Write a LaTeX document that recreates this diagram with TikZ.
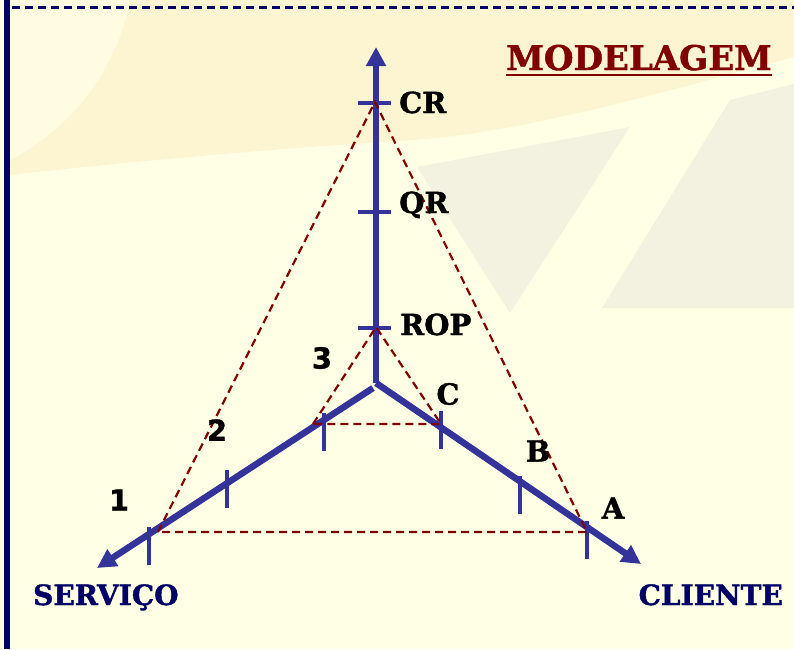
\documentclass[tikz,border=0pt]{standalone}
\usepackage{fontspec}
\setmainfont{DejaVu Serif}
\newfontfamily\labfont[FakeBold=1.3]{DejaVu Serif Bold}
\newfontfamily\numfont[FakeBold=1.0]{DejaVu Sans Bold}
\usetikzlibrary{arrows.meta}
\definecolor{axisblue}{RGB}{51,51,153}
\definecolor{navy}{RGB}{0,0,102}
\definecolor{dred}{RGB}{128,0,0}
\definecolor{cream}{RGB}{255,255,229}
\definecolor{warm}{RGB}{253,245,210}
\definecolor{greybg}{RGB}{243,241,224}
\definecolor{lightcream}{RGB}{255,252,226}
\begin{document}
\begin{tikzpicture}[x=1pt,y=-1pt,
  axis/.style={draw=axisblue,line width=6.5pt,-{Triangle[length=19pt,width=19pt]}},
  tickmark/.style={draw=axisblue,line width=4pt},
  guide/.style={draw=dred,line width=2.2pt,dash pattern=on 8pt off 5pt},
  lab/.style={font=\labfont\fontsize{29}{30}\selectfont,text=black,inner sep=0pt},
  num/.style={font=\numfont\fontsize{29}{30}\selectfont,text=black,inner sep=0pt},
  axlab/.style={font=\labfont\fontsize{28}{30}\selectfont,text=navy,inner sep=0pt},
  title/.style={font=\labfont\fontsize{34}{36}\selectfont,text=dred,inner sep=0pt},
]
% background
\useasboundingbox (0,0) rectangle (794,649);
\fill[cream] (0,0) rectangle (794,649);
\fill[warm] (10,0) -- (794,0) -- (794,57) .. controls (600,110) and (500,135) .. (400,141)
  .. controls (250,150) and (100,165) .. (10,175) -- cycle;
\fill[lightcream] (10,0) -- (130,0) .. controls (115,80) and (60,135) .. (10,160) -- cycle;
\fill[greybg] (417,167) -- (630,127) -- (510,313) -- cycle;
\fill[greybg] (730,100) -- (794,84) -- (794,308) -- (602,308) -- cycle;
\fill[navy] (4,0) rectangle (10,649);
\draw[navy,line width=3pt,dash pattern=on 8pt off 5pt] (12,7) -- (794,7);

% axes
\coordinate (O) at (376,383);
\coordinate (Ol) at (373,388);
\coordinate (top) at (376,47);
\coordinate (lend) at (97,568);
\coordinate (rend) at (641,564);
\draw[axis] (O) -- (top);
\draw[axis] (Ol) -- (lend);
\draw[axis] (O) -- (rend);

% ticks
\coordinate (tCR) at (376,103);
\coordinate (tQR) at (376,212);
\coordinate (tROP) at (376,328);
\foreach \t in {tCR,tQR,tROP}
  \draw[tickmark] ([xshift=-18pt]\t) -- ([xshift=15pt]\t);
\coordinate (t1a) at (149,527); \coordinate (t1b) at (149,565);
\coordinate (t2a) at (227,470); \coordinate (t2b) at (227,508);
\coordinate (t3a) at (324,413); \coordinate (t3b) at (324,451);
\coordinate (tCa) at (441,411); \coordinate (tCb) at (441,449);
\coordinate (tBa) at (520,476); \coordinate (tBb) at (520,514);
\coordinate (tAa) at (587,521); \coordinate (tAb) at (587,559);
\foreach \t in {t1,t2,t3,tC,tB,tA}
  \draw[tickmark] (\t a) -- (\t b);

% dashed triangles
\coordinate (apexCR) at (375,102);
\coordinate (P1) at (158,532);
\coordinate (PA) at (587,532);
\coordinate (apexROP) at (376,327);
\coordinate (P3) at (313,424);
\coordinate (PC) at (441,424);
\draw[guide] (P1) -- (apexCR) -- (PA) -- cycle;
\draw[guide] (P3) -- (apexROP) -- (PC) -- cycle;

% labels
\node[lab,anchor=base west] (cr) at (399,113) {CR};
\node[lab,anchor=base west] (qr) at (399,213) {QR};
\node[lab,anchor=base west] (rop) at (400,335) {ROP};
\node[lab] (lc) at (448,394) {C};
\node[lab] (lb) at (538,451) {B};
\node[lab] (la) at (613,508) {A};
\node[num] (n3) at (322,358) {3};
\node[num] (n2) at (217,430) {2};
\node[num] (n1) at (119,500) {1};
\node[axlab,anchor=base west] (serv) at (33,605) {SERVIÇO};
\node[axlab,anchor=base east] (cli) at (783,605) {CLIENTE};
\node[title,anchor=base east] (mod) at (772,70) {MODELAGEM};
\draw[dred,line width=2pt] ([yshift=-4.5pt]mod.base west) -- ([yshift=-4.5pt]mod.base east);
\end{tikzpicture}
\end{document}
